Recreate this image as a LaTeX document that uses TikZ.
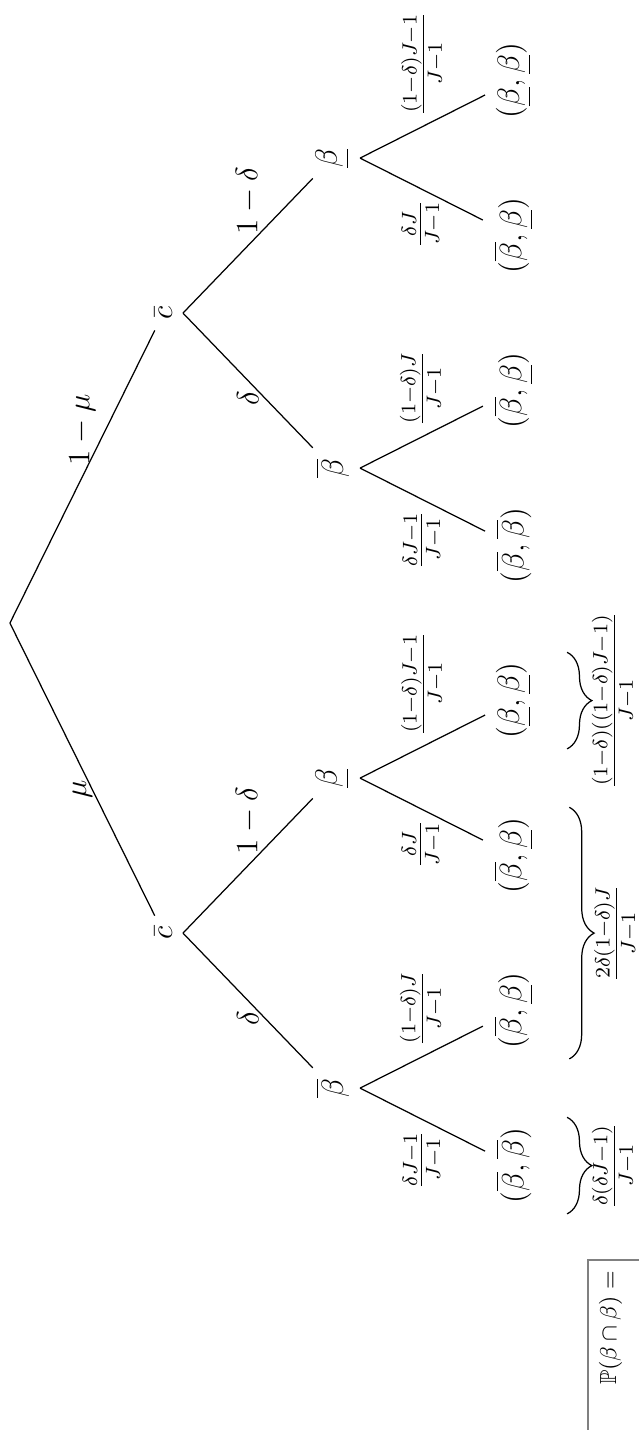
\documentclass[12pt,tikz,border=0pt]{standalone}
\usepackage{amsmath, amssymb}
\usepackage{tikz}
\usetikzlibrary{decorations.pathreplacing}
\tikzset{every edge/.style={ % Sets the properties for each branch
draw,
thin},
grpbrace/.style={ % Brace under a group of outcomes
decorate,
decoration={brace, mirror, amplitude=8pt, raise=8pt}},
probframe/.style={draw=gray, line width=0.8pt}} % Frame of the sum box

\begin{document}
\begin{tikzpicture}[x=1.2pt, y=1.2pt, scale=0.8333, rotate=90, transform shape]
					\clip (-260.3,-202.9) rectangle (201,3.2);

					\coordinate (root) at (0,0);

					\node (c1) at (-100,-49.5) {$\bar{c}$};
					\node (c2) at (100,-49.5) {$\bar{c}$};

					\node (b1) at (-150,-104) {$\overline{\beta}$};
					\node (b2) at (-50,-104) {$\underline{\beta}$};
					\node (b3) at (50,-104) {$\overline{\beta}$};
					\node (b4) at (150,-104) {$\underline{\beta}$};

					\node (l1) at (-175,-162.5) {$(\overline{\beta},\overline{\beta})$};
					\node (l2) at (-125,-162.5) {$(\overline{\beta},\underline{\beta})$};
					\node (l3) at (-75,-162.5) {$(\overline{\beta},\underline{\beta})$};
					\node (l4) at (-25,-162.5) {$(\underline{\beta},\underline{\beta})$};
					\node (l5) at (25,-162.5) {$(\overline{\beta},\overline{\beta})$};
					\node (l6) at (75,-162.5) {$(\overline{\beta},\underline{\beta})$};
					\node (l7) at (125,-162.5) {$(\overline{\beta},\underline{\beta})$};
					\node (l8) at (175,-162.5) {$(\underline{\beta},\underline{\beta})$};

					\draw (root) edge node[left] {$\mu$} (c1);
					\draw (root) edge node[right] {$1-\mu$} (c2);

					\draw (c1.south) edge node[left] {$\delta$} (b1);
					\draw (c1.south) edge node[right] {$1-\delta$} (b2);
					\draw (c2.south) edge node[left] {$\delta$} (b3);
					\draw (c2.south) edge node[right] {$1-\delta$} (b4);

					\draw (b1.south) edge node[left] {$\frac{\delta J-1}{J-1}$} (l1);
					\draw (b1.south) edge node[right] {$\frac{(1-\delta)J}{J-1}$} (l2);
					\draw (b2.south) edge node[left] {$\frac{\delta J}{J-1}$} (l3);
					\draw (b2.south) edge node[right] {$\frac{(1-\delta)J-1}{J-1}$} (l4);
					\draw (b3.south) edge node[left] {$\frac{\delta J-1}{J-1}$} (l5);
					\draw (b3.south) edge node[right] {$\frac{(1-\delta)J}{J-1}$} (l6);
					\draw (b4.south) edge node[left] {$\frac{\delta J}{J-1}$} (l7);
					\draw (b4.south) edge node[right] {$\frac{(1-\delta)J-1}{J-1}$} (l8);

					\draw[grpbrace] (l1.south west) -- (l1.south east) node[midway, below=15pt] {$\frac{\delta(\delta J-1)}{J-1}$};
					\draw[grpbrace] (l2.south west) -- (l3.south east) node[midway, below=15pt] {$\frac{2\delta(1-\delta)J}{J-1}$};
					\draw[grpbrace] (l4.south west) -- (l4.south east) node[midway, below=15pt] {$\frac{(1-\delta)((1-\delta)J-1)}{J-1}$};

					\node[anchor=north east, font=\fontsize{9}{11}\selectfont] (prob) at (-205.5,-186.5) {$\mathbb{P}(\beta\cap\beta) =$};
					\draw[probframe] (prob.north east) rectangle (-290,-240);
				\end{tikzpicture}
\end{document}
